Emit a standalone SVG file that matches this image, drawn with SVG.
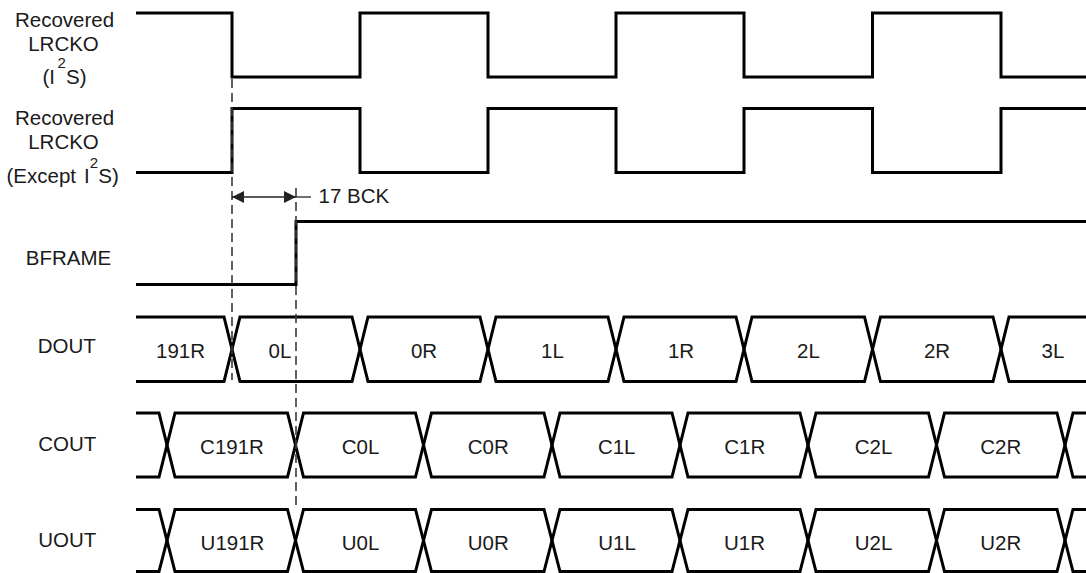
<svg xmlns="http://www.w3.org/2000/svg" width="1086" height="573" viewBox="0 0 1086 573">
<style>
  text { font-family: "Liberation Sans", Arial, sans-serif; font-size: 20.5px; fill: #1a1a1a; }
  .lbl { text-anchor: middle; }
  .sup { font-size: 15px; }
  .sig { fill: none; stroke: #000; stroke-width: 3; stroke-linejoin: miter; }
  .dash { fill: none; stroke: #3a3a3a; stroke-width: 1.6; stroke-dasharray: 9 5; }
  .dim { fill: none; stroke: #222; stroke-width: 1.3; }
</style>
<defs>
  <marker id="ah" viewBox="0 0 12 12" refX="12" refY="6" markerWidth="12" markerHeight="12" orient="auto-start-reverse" markerUnits="userSpaceOnUse">
    <path d="M0,0 L12,6 L0,12 z" fill="#222"/>
  </marker>
</defs>

<g id="lrcko-i2s">
  <text class="lbl" x="64.5" y="27">Recovered</text>
  <text class="lbl" x="63.5" y="51">LRCKO</text>
  <text y="83.5"><tspan x="42.5">(I</tspan><tspan class="sup" x="57.5" dy="-15.2">2</tspan><tspan x="66" dy="15.2">S)</tspan></text>
  <path class="sig" d="M136,13 H232 V77 H360 V13 H488 V77 H616 V13 H744 V77 H872.5 V13 H1001 V77 H1086"/>
</g>

<g id="lrcko-except-i2s">
  <text class="lbl" x="64.5" y="124.5">Recovered</text>
  <text class="lbl" x="63.5" y="148.7">LRCKO</text>
  <text y="183"><tspan x="6.5">(Except</tspan><tspan x="84">I</tspan><tspan class="sup" x="89.8" dy="-15.5">2</tspan><tspan x="98.3" dy="15.5">S)</tspan></text>
  <path class="sig" d="M136,172.5 H232 V108.5 H360 V172.5 H488 V108.5 H616 V172.5 H744 V108.5 H872.5 V172.5 H1001 V108.5 H1086"/>
</g>

<g id="bframe">
  <text class="lbl" x="68.5" y="265">BFRAME</text>
  <path class="sig" d="M136,284.5 H296 V221.5 H1086"/>
</g>

<g id="dout">
  <text class="lbl" x="66.7" y="353.3">DOUT</text>
  <path class="sig" d="M136,317 H224 L240,381.5 H352 L368,317 H480 L496,381.5 H608 L624,317 H736 L752,381.5 H864.5 L880.5,317 H993 L1009,381.5 H1086"/>
  <path class="sig" d="M136,381.5 H224 L240,317 H352 L368,381.5 H480 L496,317 H608 L624,381.5 H736 L752,317 H864.5 L880.5,381.5 H993 L1009,317 H1086"/>
  <text class="lbl" x="180.5" y="357.5">191R</text>
  <text class="lbl" x="280" y="357.5">0L</text>
  <text class="lbl" x="424" y="357.5">0R</text>
  <text class="lbl" x="552.5" y="357.5">1L</text>
  <text class="lbl" x="681" y="357.5">1R</text>
  <text class="lbl" x="808.5" y="357.5">2L</text>
  <text class="lbl" x="937" y="357.5">2R</text>
  <text class="lbl" x="1053" y="357.5">3L</text>
</g>

<g id="cout">
  <text class="lbl" x="67.2" y="450.7">COUT</text>
  <path class="sig" d="M136,413 H159 L175,477 H287.5 L303.5,413 H415.5 L431.5,477 H544 L560,413 H672 L688,477 H800 L816,413 H928.5 L944.5,477 H1057 L1073,413 H1086"/>
  <path class="sig" d="M136,477 H159 L175,413 H287.5 L303.5,477 H415.5 L431.5,413 H544 L560,477 H672 L688,413 H800 L816,477 H928.5 L944.5,413 H1057 L1073,477 H1086"/>
  <text class="lbl" x="232" y="454">C191R</text>
  <text class="lbl" x="360.5" y="454">C0L</text>
  <text class="lbl" x="488.3" y="454">C0R</text>
  <text class="lbl" x="616.7" y="454">C1L</text>
  <text class="lbl" x="744.8" y="454">C1R</text>
  <text class="lbl" x="873.5" y="454">C2L</text>
  <text class="lbl" x="1000.8" y="454">C2R</text>
</g>

<g id="uout">
  <text class="lbl" x="67.2" y="546.7">UOUT</text>
  <path class="sig" d="M136,509.5 H159 L175,571.5 H287.5 L303.5,509.5 H415.5 L431.5,571.5 H544 L560,509.5 H672 L688,571.5 H800 L816,509.5 H928.5 L944.5,571.5 H1057 L1073,509.5 H1086"/>
  <path class="sig" d="M136,571.5 H159 L175,509.5 H287.5 L303.5,571.5 H415.5 L431.5,509.5 H544 L560,571.5 H672 L688,509.5 H800 L816,571.5 H928.5 L944.5,509.5 H1057 L1073,571.5 H1086"/>
  <text class="lbl" x="232.5" y="550">U191R</text>
  <text class="lbl" x="360.5" y="550">U0L</text>
  <text class="lbl" x="488.3" y="550">U0R</text>
  <text class="lbl" x="617" y="550">U1L</text>
  <text class="lbl" x="744.5" y="550">U1R</text>
  <text class="lbl" x="873.5" y="550">U2L</text>
  <text class="lbl" x="1000.8" y="550">U2R</text>
</g>

<g id="connectors">
  <line class="dash" x1="232" y1="79" x2="232" y2="380"/>
  <line class="dash" x1="296" y1="188" x2="296" y2="510"/>
  <line class="dim" x1="232" y1="197" x2="296" y2="197" marker-start="url(#ah)" marker-end="url(#ah)"/>
  <line class="dim" x1="296" y1="197" x2="311" y2="197"/>
  <text x="318.5" y="202.7">17 BCK</text>
</g>
</svg>
